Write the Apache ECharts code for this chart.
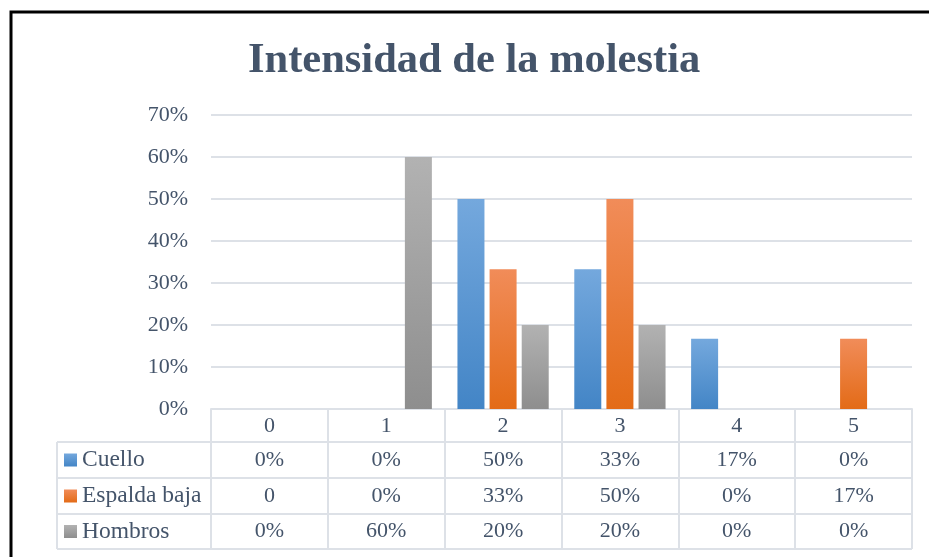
<!DOCTYPE html>
<html>
<head>
<meta charset="utf-8">
<script src="https://cdn.jsdelivr.net/npm/echarts@6/dist/echarts.min.js"></script>
<style>
  html, body { margin: 0; padding: 0; background: #fff; }
  #chart { width: 929px; height: 557px; }
</style>
</head>
<body>
<div id="chart"></div>
<script>
// datos del gráfico
var categories = ['0', '1', '2', '3', '4', '5'];
var seriesNames = ['Cuello', 'Espalda baja', 'Hombros'];
var cuello = [0, 0, 0.50, 0.333, 0.167, 0];
var espaldaBaja = [0, 0, 0.333, 0.50, 0, 0.167];
var hombros = [0, 0.60, 0.20, 0.20, 0, 0];
// textos de la tabla de datos (tal como aparecen)
var cuelloText = ['0%', '0%', '50%', '33%', '17%', '0%'];
var espaldaText = ['0', '0%', '33%', '50%', '0%', '17%'];
var hombrosText = ['0%', '60%', '20%', '20%', '0%', '0%'];

var textColor = '#44546a';
var lineColor = '#dde1e7';
var font = '"Liberation Serif", "Times New Roman", serif';

var colors = [
  ['#74a8dd', '#4385c6'],
  ['#f18c59', '#e36b17'],
  ['#b2b2b2', '#8e8e8e']
];

function grad(c) {
  return new echarts.graphic.LinearGradient(0, 0, 0, 1, [
    { offset: 0, color: c[0] },
    { offset: 1, color: c[1] }
  ]);
}

var chart = echarts.init(document.getElementById('chart'));
var allValues = [cuello, espaldaBaja, hombros];
var allTexts = [cuelloText, espaldaText, hombrosText];

var option = {
  animation: false,
  backgroundColor: '#fff',
  title: {
    text: 'Intensidad de la molestia',
    left: 243,
    top: 35,
    textStyle: { fontFamily: font, fontSize: 42.5, fontWeight: 'bold', color: textColor }
  },
  grid: { left: 211, right: 17, top: 115, bottom: 148 },
  xAxis: {
    type: 'category',
    data: categories,
    axisLine: { show: true, lineStyle: { color: lineColor, width: 2 } },
    axisTick: { show: true, length: 140, lineStyle: { color: lineColor, width: 2 } },
    axisLabel: { color: textColor, fontFamily: font, fontSize: 22, margin: 6 }
  },
  yAxis: {
    type: 'value',
    min: 0,
    max: 0.7,
    interval: 0.1,
    axisLine: { show: false },
    axisTick: { show: false },
    splitLine: { lineStyle: { color: lineColor, width: 2 } },
    axisLabel: {
      color: textColor, fontFamily: font, fontSize: 22, margin: 23,
      formatter: function (v) { return Math.round(v * 100) + '%'; }
    }
  },
  series: seriesNames.map(function (name, i) {
    return {
      name: name,
      type: 'bar',
      data: allValues[i],
      barWidth: 27,
      barGap: '19%',
      itemStyle: { color: grad(colors[i]) }
    };
  })
};
chart.setOption(option);

// tabla de datos debajo del eje
var g = [];
g.push({
  type: 'rect', silent: true, z: 100,
  shape: { x: 11, y: 12, width: 940, height: 570 },
  style: { fill: null, stroke: '#000', lineWidth: 3 }
});
var rowLines = [442, 478, 514, 549];
rowLines.forEach(function (y) {
  g.push({ type: 'line', silent: true, shape: { x1: 57, y1: y, x2: 912, y2: y }, style: { stroke: lineColor, lineWidth: 2 } });
});
g.push({ type: 'line', silent: true, shape: { x1: 57, y1: 442, x2: 57, y2: 549 }, style: { stroke: lineColor, lineWidth: 2 } });

var rowCenters = [460, 496, 531.5];
seriesNames.forEach(function (name, i) {
  var cy = rowCenters[i];
  g.push({ type: 'rect', silent: true, shape: { x: 64, y: cy - 6.5, width: 13, height: 13 }, style: { fill: grad(colors[i]) } });
  g.push({
    type: 'text', silent: true, x: 82, y: cy,
    style: { text: name, fill: textColor, font: '23.5px ' + font, textVerticalAlign: 'middle', textAlign: 'left' }
  });
  categories.forEach(function (c, j) {
    var px = chart.convertToPixel({ xAxisIndex: 0 }, c);
    g.push({
      type: 'text', silent: true, x: px, y: cy,
      style: { text: allTexts[i][j], fill: textColor, font: '22px ' + font, textVerticalAlign: 'middle', textAlign: 'center' }
    });
  });
});
chart.setOption({ graphic: g });
</script>
</body>
</html>
